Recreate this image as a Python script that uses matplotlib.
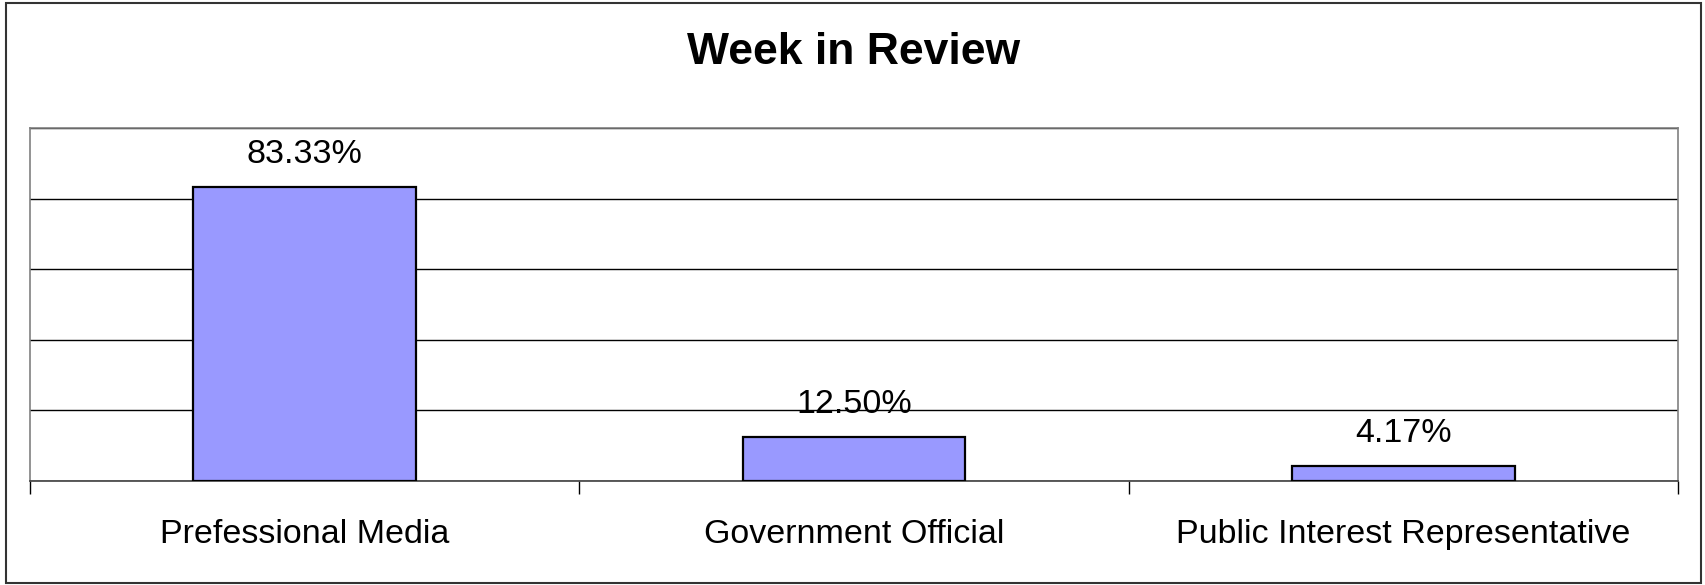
import matplotlib
matplotlib.use("Agg")
import matplotlib.pyplot as plt
from matplotlib.patches import Rectangle

plt.rcParams['font.family'] = ['Liberation Sans', 'DejaVu Sans']

categories = ["Prefessional Media", "Government Official", "Public Interest Representative"]
shares = [83.33, 12.50, 4.17]
value_labels = ["83.33%", "12.50%", "4.17%"]

fig = plt.figure(figsize=(17.06, 5.85), dpi=100)
ax = fig.add_axes([30 / 1706, 104 / 585, 1648 / 1706, 353 / 585])

x = range(len(categories))
bars = ax.bar(x, shares, width=0.405, color="#9999ff", edgecolor="black", linewidth=1.6, zorder=3)

ax.set_xlim(-0.5, len(categories) - 0.5)
ax.set_ylim(0, 100)
ax.set_yticks([0, 20, 40, 60, 80, 100])
ax.yaxis.grid(True, color="black", linewidth=1.0, zorder=0)
ax.tick_params(axis="y", left=False, labelleft=False)

# boundary ticks between categories, labels centred under each bar
ax.set_xticks([i - 0.5 for i in range(len(categories) + 1)])
ax.set_xticklabels([])
ax.set_xticks(list(x), minor=True)
ax.set_xticklabels(categories, minor=True, fontsize=24.5)
ax.tick_params(axis="x", which="major", direction="out", length=9.5, width=1.0, color="black")
ax.tick_params(axis="x", which="minor", length=0, pad=27.5)

for sp in ax.spines.values():
    sp.set_color("#808080")
    sp.set_linewidth(1.2)
ax.spines["bottom"].set_color("#404040")

for b, lab in zip(bars, value_labels):
    ax.annotate(lab, (b.get_x() + b.get_width() / 2, b.get_height()),
                xytext=(0, 23.5), textcoords="offset points",
                ha="center", va="center", fontsize=24.5, zorder=4)

fig.text(854 / 1706, 1 - 52 / 585, "Week in Review", ha="center", va="center",
         fontsize=32, fontweight="bold")

fig.patches.append(Rectangle((6 / 1706, 2 / 585), 1695 / 1706, 580 / 585,
                             transform=fig.transFigure, fill=False,
                             edgecolor="#333333", linewidth=1.5))

fig.savefig("out.png", dpi=100)
